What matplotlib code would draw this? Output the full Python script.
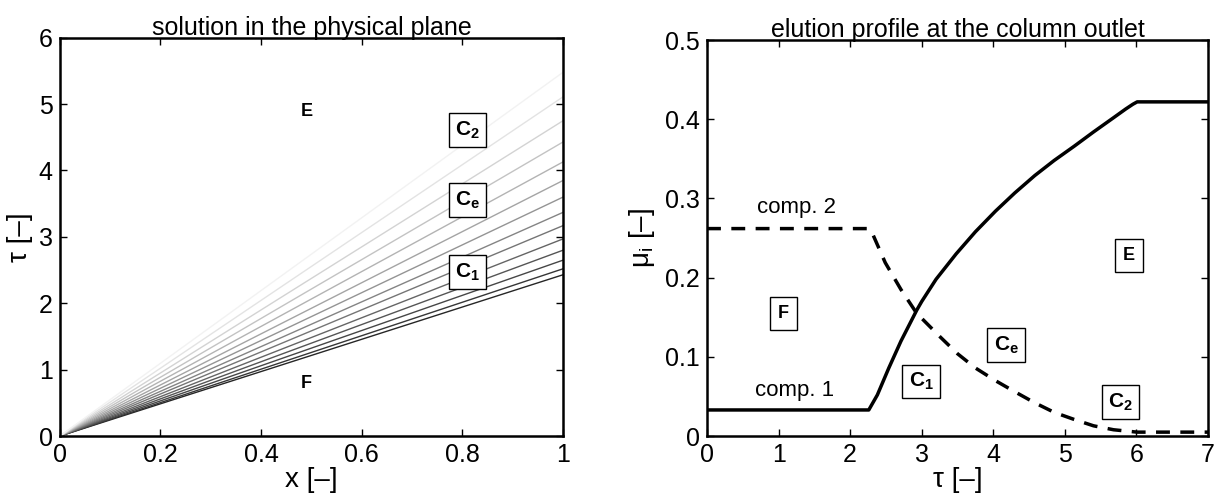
import numpy as np
import matplotlib.pyplot as plt

plt.rcParams['font.family'] = ['Liberation Sans', 'DejaVu Sans']
plt.rcParams['mathtext.fontset'] = 'custom'
plt.rcParams['mathtext.rm'] = 'Liberation Sans'
plt.rcParams['mathtext.it'] = 'Liberation Sans:italic'
plt.rcParams['mathtext.bf'] = 'Liberation Sans:bold'

# left panel: characteristic lines from the origin, tau value reached at x = 1
tau_end = [2.43, 2.52, 2.65, 2.80, 2.97, 3.17, 3.37, 3.60, 3.85, 4.13, 4.43, 4.75, 5.11, 5.48]

# right panel: elution profiles at the outlet
tau1 = [0, 2.26, 2.38, 2.54, 2.71, 2.93, 3.0, 3.20, 3.48, 3.75, 4.03, 4.30, 4.58, 4.85, 5.13, 5.40, 5.68, 5.85, 5.95, 6.01, 7]
mu1 = [0.033, 0.033, 0.052, 0.086, 0.120, 0.159, 0.170, 0.198, 0.230, 0.258, 0.284, 0.307, 0.329, 0.348, 0.366, 0.384, 0.402, 0.413, 0.419, 0.422, 0.422]
tau2 = [0, 2.26, 2.32, 2.49, 2.71, 2.93, 3.26, 3.50, 3.75, 4.03, 4.30, 4.58, 4.85, 5.13, 5.40, 5.68, 6.01, 7]
mu2 = [0.262, 0.262, 0.254, 0.219, 0.185, 0.155, 0.125, 0.104, 0.086, 0.070, 0.056, 0.042, 0.030, 0.021, 0.013, 0.008, 0.005, 0.005]

fig = plt.figure(figsize=(12.19, 4.95), dpi=100)
ax1 = fig.add_axes([0.049, 0.119, 0.413, 0.805])
ax2 = fig.add_axes([0.580, 0.119, 0.411, 0.800])

for ax in (ax1, ax2):
    ax.tick_params(direction='in', top=True, right=True, labelsize=18, length=5, width=1, pad=5)
    for s in ax.spines.values():
        s.set_linewidth(1.8)

box = dict(boxstyle='square,pad=0.3', fc='white', ec='black', lw=1)
box2 = dict(boxstyle='square,pad=0.45', fc='white', ec='black', lw=1)

# left
n = len(tau_end)
for k, t in enumerate(tau_end):
    g = 0.15 + 0.8 * k / (n - 1)
    ax1.plot([0, 1], [0, t], color=str(g), lw=1)
ax1.set_xlim(0, 1)
ax1.set_ylim(0, 6)
ax1.set_xticks([0, 0.2, 0.4, 0.6, 0.8, 1])
ax1.set_xticklabels(['0', '0.2', '0.4', '0.6', '0.8', '1'])
ax1.set_title('solution in the physical plane', fontsize=18, pad=2)
ax1.set_xlabel('x [–]', fontsize=20, labelpad=0)
ax1.set_ylabel('τ [–]', fontsize=20, labelpad=4)
ax1.text(0.49, 4.89, 'E', fontsize=13, weight='bold', ha='center', va='center')
ax1.text(0.49, 0.79, 'F', fontsize=13, weight='bold', ha='center', va='center')
ax1.text(0.81, 4.61, r'$\mathbf{C}_{\mathbf{2}}$', fontsize=15, ha='center', va='center', bbox=box)
ax1.text(0.81, 3.55, r'$\mathbf{C}_{\mathbf{e}}$', fontsize=15, ha='center', va='center', bbox=box)
ax1.text(0.81, 2.47, r'$\mathbf{C}_{\mathbf{1}}$', fontsize=15, ha='center', va='center', bbox=box)

# right
ax2.plot(tau1, mu1, color='black', lw=2.5)
ax2.plot(tau2, mu2, color='black', lw=2.5, ls=(0, (4, 3)))
ax2.set_xlim(0, 7)
ax2.set_ylim(0, 0.5)
ax2.set_xticks(range(8))
ax2.set_yticks([0, 0.1, 0.2, 0.3, 0.4, 0.5])
ax2.set_yticklabels(['0', '0.1', '0.2', '0.3', '0.4', '0.5'])
ax2.set_title('elution profile at the column outlet', fontsize=18, pad=2)
ax2.set_xlabel('τ [–]', fontsize=20, labelpad=0)
ax2.set_ylabel(r'μ$_\mathrm{i}$ [–]', fontsize=20, labelpad=6)
ax2.text(1.25, 0.288, 'comp. 2', fontsize=16, ha='center', va='center')
ax2.text(1.22, 0.057, 'comp. 1', fontsize=16, ha='center', va='center')
ax2.text(1.07, 0.155, 'F', fontsize=13, weight='bold', ha='center', va='center', bbox=box2)
ax2.text(5.9, 0.228, 'E', fontsize=13, weight='bold', ha='center', va='center', bbox=box2)
ax2.text(2.99, 0.069, r'$\mathbf{C}_{\mathbf{1}}$', fontsize=15, ha='center', va='center', bbox=box)
ax2.text(4.18, 0.115, r'$\mathbf{C}_{\mathbf{e}}$', fontsize=15, ha='center', va='center', bbox=box)
ax2.text(5.78, 0.043, r'$\mathbf{C}_{\mathbf{2}}$', fontsize=15, ha='center', va='center', bbox=box)

fig.savefig('out.png', dpi=100)
